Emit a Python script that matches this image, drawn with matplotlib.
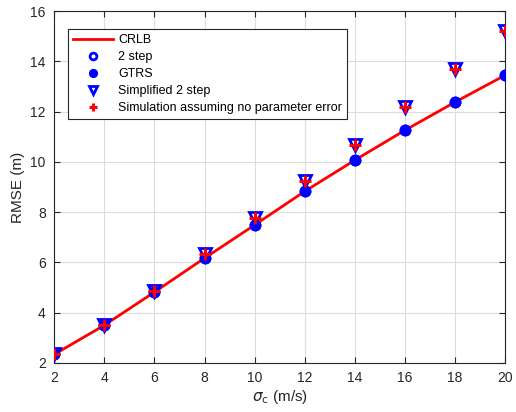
import matplotlib
matplotlib.use('Agg')
import matplotlib.pyplot as plt
import numpy as np

plt.rcParams['font.family'] = ['Liberation Sans', 'DejaVu Sans']

# sigma_c (m/s)
sigma_c = [2, 4, 6, 8, 10, 12, 14, 16, 18, 20]

# RMSE (m)
crlb = [2.34, 3.50, 4.82, 6.17, 7.49, 8.83, 10.07, 11.26, 12.38, 13.45]
two_step = [2.34, 3.50, 4.82, 6.18, 7.49, 8.84, 10.07, 11.27, 12.38, 13.44]
gtrs = [2.34, 3.50, 4.82, 6.18, 7.49, 8.84, 10.07, 11.27, 12.38, 13.44]
simplified = [2.36, 3.52, 4.86, 6.32, 7.75, 9.24, 10.68, 12.20, 13.68, 15.20]
no_param_err = [2.36, 3.52, 4.86, 6.32, 7.75, 9.24, 10.68, 12.20, 13.68, 15.20]

fig = plt.figure(figsize=(5.16, 4.12), dpi=100)
ax = fig.add_axes([0.105, 0.119, 0.874, 0.854])

ax.plot(sigma_c, crlb, '-', color='red', lw=2, label='CRLB', zorder=3)
ax.plot(sigma_c, two_step, 'o', mfc='none', mec='blue', mew=2, ms=6.5, label='2 step', zorder=4)
ax.plot(sigma_c, gtrs, 'o', color='blue', ms=7.5, label='GTRS', zorder=5)
ax.plot(sigma_c, simplified, 'v', mfc='none', mec='blue', mew=2, ms=8.5, label='Simplified 2 step', zorder=4)
ax.plot(sigma_c, no_param_err, '+', color='red', mew=2.2, ms=8, label='Simulation assuming no parameter error', zorder=6)

ax.set_xlim(2, 20)
ax.set_ylim(2, 16)
ax.set_xticks(np.arange(2, 21, 2))
ax.set_yticks(np.arange(2, 17, 2))
ax.grid(True, color='#dcdcdc', lw=0.8)
ax.set_axisbelow(True)
ax.tick_params(direction='in', length=4, labelsize=10, colors='#262626', top=True, right=True, pad=6)
for s in ax.spines.values():
    s.set_color('#262626')
    s.set_linewidth(0.8)

ax.set_xlabel(r'$\sigma_{\rm c}$ (m/s)', fontsize=11, color='#262626', labelpad=2)
ax.set_ylabel('RMSE (m)', fontsize=11, color='#262626')

leg = ax.legend(loc='upper left', bbox_to_anchor=(0.031, 0.949), borderaxespad=0, fontsize=9,
                fancybox=False, edgecolor='#262626', framealpha=1, handlelength=3.2,
                handletextpad=0.4, labelspacing=0.4, markerscale=0.75)
leg.get_frame().set_linewidth(0.8)

fig.savefig('out.png', dpi=100)
